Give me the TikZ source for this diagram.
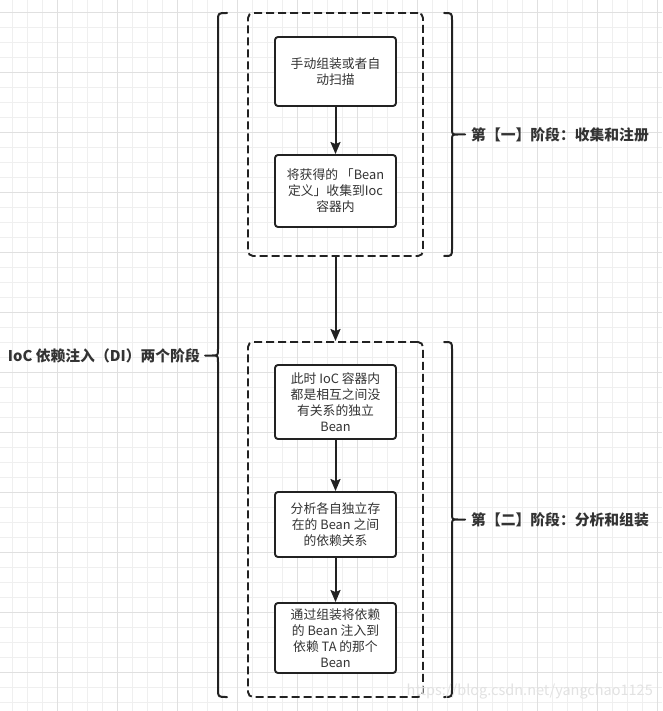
\documentclass[tikz,border=0pt]{standalone}
\usepackage{fontspec}
\setmainfont{Noto Sans CJK SC}
\usetikzlibrary{arrows.meta}
\definecolor{ink}{HTML}{222222}
\definecolor{gridminor}{HTML}{EFEFEF}
\definecolor{gridmajor}{HTML}{E0E0E0}
\definecolor{txt}{HTML}{333333}
\definecolor{wm}{HTML}{E2E2E2}
\begin{document}
\begin{tikzpicture}[x=1pt,y=-1pt,
  stepbox/.style={draw=ink, line width=1.9pt, fill=white, rounded corners=3pt,
    minimum width=121pt, inner sep=0pt, align=center, text=txt,
    font=\fontsize{12.8}{16}\selectfont},
  groupbox/.style={draw=ink, line width=1.9pt, dash pattern=on 8pt off 4pt,
    rounded corners=5pt, minimum width=175pt, inner sep=0pt},
  arr/.style={draw=ink, line width=2pt, -{Stealth[length=12pt,width=10pt,inset=2pt]}},
  brace/.style={draw=ink, line width=2pt, line join=round, line cap=round},
  lbl/.style={text=txt, inner sep=0pt, font=\bfseries\fontsize{14.8}{18}\selectfont}
]
\useasboundingbox (0,0) rectangle (662,711);
\fill[white] (0,0) rectangle (662,711);
% grid
\foreach \i in {0,...,43} {
  \draw[gridminor, line width=0.9pt] ({12.3+15*\i},0) -- ({12.3+15*\i},711);
}
\foreach \i in {0,...,46} {
  \draw[gridminor, line width=0.9pt] (0,{12.3+15*\i}) -- (662,{12.3+15*\i});
}
\foreach \i in {0,...,10} {
  \draw[gridmajor, line width=0.9pt] ({57.3+60*\i},0) -- ({57.3+60*\i},711);
}
\foreach \i in {0,...,11} {
  \draw[gridmajor, line width=0.9pt] (0,{12.3+60*\i}) -- (662,{12.3+60*\i});
}

% groups
\node[groupbox, minimum height=243pt] (g1) at (335.5,134.5) {};
\node[groupbox, minimum height=355pt] (g2) at (335.5,519.5) {};

% steps
\node[stepbox, minimum height=69pt] (b1) at (335.5,71.5) {手动组装或者自\\动扫描};
\node[stepbox, minimum height=72pt] (b2) at (335.5,191) {将获得的 「Bean\\定义」收集到Ioc\\容器内};
\node[stepbox, minimum height=74pt] (b3) at (335.5,402) {此时 IoC 容器内\\都是相互之间没\\有关系的独立\\Bean};
\node[stepbox, minimum height=65pt] (b4) at (335.5,524.5) {分析各自独立存\\在的 Bean 之间\\的依赖关系};
\node[stepbox, minimum height=70pt] (b5) at (335.5,638) {通过组装将依赖\\的 Bean 注入到\\依赖 TA 的那个\\Bean};

% arrows
\draw[arr] (b1) -- (b2);
\draw[arr] (g1) -- (g2);
\draw[arr] (b3) -- (b4);
\draw[arr] (b4) -- (b5);

% braces
\draw[brace] (444,13) .. controls (452,13) .. (452,21) -- (452,128)
  .. controls (452,134.5) .. (458,134.5) -- (465,134.5)
  (458,134.5) .. controls (452,134.5) .. (452,141) -- (452,248)
  .. controls (452,256) .. (444,256);
\draw[brace] (444,342) .. controls (452,342) .. (452,350) -- (452,513)
  .. controls (452,519.5) .. (458,519.5) -- (465,519.5)
  (458,519.5) .. controls (452,519.5) .. (452,526) -- (452,689)
  .. controls (452,697) .. (444,697);
\draw[brace] (227,13) .. controls (218,13) .. (218,21) -- (218,349)
  .. controls (218,355.5) .. (212,355.5) -- (205,355.5)
  (212,355.5) .. controls (218,355.5) .. (218,362) -- (218,689)
  .. controls (218,697) .. (227,697);

% labels
\node[lbl, anchor=west] (l1) at (471,134.5) {第【一】阶段：收集和注册};
\node[lbl, anchor=west] (l2) at (471,519.5) {第【二】阶段：分析和组装};
\node[lbl, anchor=east] (l0) at (200,355.5) {IoC 依赖注入（DI）两个阶段};

% watermark
\node[text=wm, inner sep=0pt, anchor=east, font=\fontsize{14.5}{16}\selectfont] (wm) at (653,692) {https://blog.csdn.net/yangchao1125};
\end{tikzpicture}
\end{document}
